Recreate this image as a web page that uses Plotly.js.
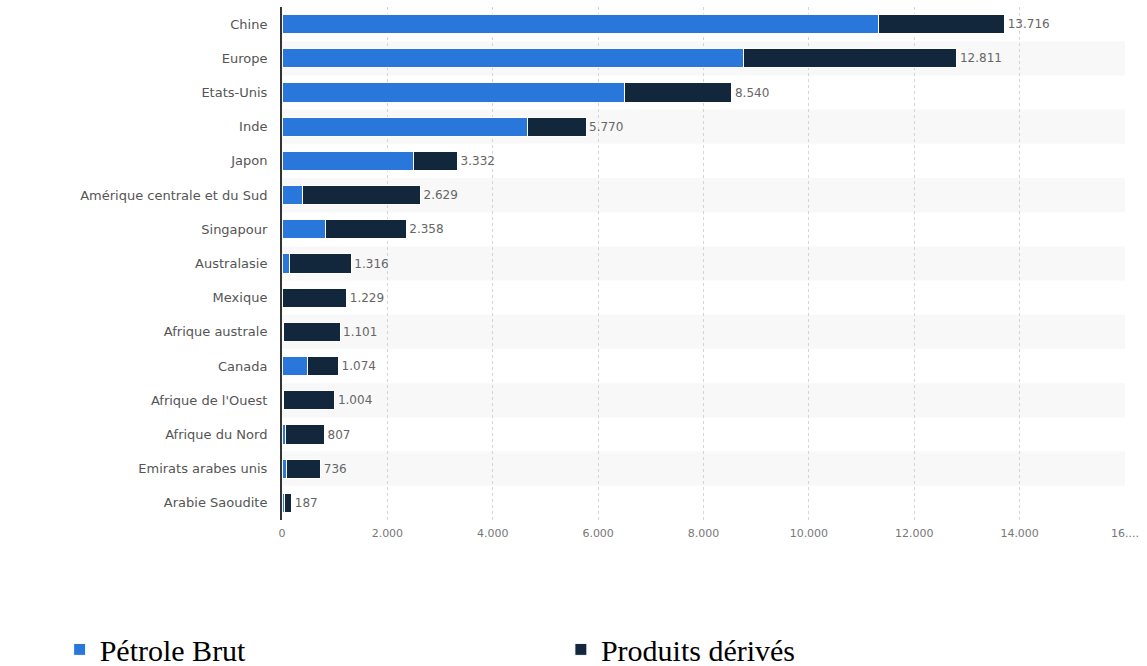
<!DOCTYPE html>
<html>
<head>
<meta charset="utf-8">
<script src="https://cdn.plot.ly/plotly-3.0.1.min.js"></script>
<style>html,body{margin:0;padding:0;background:#fff;}#chart{width:1147px;height:666px;}</style>
</head>
<body>
<div id="chart"></div>
<script>
const categories = ["Chine","Europe","Etats-Unis","Inde","Japon","Amérique centrale et du Sud","Singapour","Australasie","Mexique","Afrique australe","Canada","Afrique de l'Ouest","Afrique du Nord","Emirats arabes unis","Arabie Saoudite"];
const petroleBrut = [11316, 8764, 6503, 4650, 2504, 396, 828, 143, 0, 30, 491, 30, 60, 80, 50];
const totals = [13716, 12811, 8540, 5770, 3332, 2629, 2358, 1316, 1229, 1101, 1074, 1004, 807, 736, 187];
const produitsDerives = totals.map((t, i) => t - petroleBrut[i]);
const tickVals = [0, 2000, 4000, 6000, 8000, 10000, 12000, 14000, 16000];
const tickText = ["0", "2.000", "4.000", "6.000", "8.000", "10.000", "12.000", "14.000", "16...."];
const seriesNames = ["Pétrole Brut", "Produits dérivés"];

function fmt(n) { return String(n).replace(/\B(?=(\d{3})+(?!\d))/g, "."); }

const traces = [
  {
    type: "bar", orientation: "h", name: seriesNames[0],
    y: categories, x: petroleBrut,
    marker: {color: "#2a77dc", line: {color: "#ffffff", width: 1}},
    legend: "legend",
    hoverinfo: "x+y"
  },
  {
    type: "bar", orientation: "h", name: seriesNames[1],
    y: categories, x: produitsDerives,
    marker: {color: "#12263c", line: {color: "#ffffff", width: 1}},
    text: totals.map(fmt), textposition: "outside", cliponaxis: false,
    textfont: {family: "DejaVu Sans", size: 12, color: "#666666"},
    legend: "legend2",
    hoverinfo: "x+y"
  }
];

const shapes = categories.map((c, i) => i % 2 === 1 ? {
  type: "rect", xref: "paper", yref: "y", x0: 0, x1: 1,
  y0: i - 0.5, y1: i + 0.5, fillcolor: "#f8f8f8", line: {width: 0}, layer: "below"
} : null).filter(Boolean);

const legendFont = {family: "Liberation Serif", size: 30, color: "#000000"};

const layout = {
  width: 1147, height: 666,
  margin: {l: 282, r: 22, t: 7, b: 146},
  paper_bgcolor: "#ffffff", plot_bgcolor: "rgba(0,0,0,0)",
  barmode: "stack", bargap: 0.44,
  separators: ",.",
  font: {family: "DejaVu Sans", color: "#666666"},
  xaxis: {
    range: [0, 16000], tickvals: tickVals, ticktext: tickText,
    showgrid: true, gridcolor: "#d4d4d4", griddash: "dot", gridwidth: 1,
    zeroline: false, showline: false, ticks: "", ticklabelstandoff: 5,
    tickfont: {family: "DejaVu Sans", size: 11, color: "#777777"},
    fixedrange: true
  },
  yaxis: {
    type: "category", autorange: "reversed",
    showgrid: false, zeroline: false,
    showline: true, linecolor: "#333333", linewidth: 2,
    ticks: "", ticklabelstandoff: 10,
    tickfont: {family: "DejaVu Sans", size: 13, color: "#555555"},
    fixedrange: true
  },
  shapes: shapes,
  showlegend: true,
  legend: {
    orientation: "h", xref: "container", yref: "container",
    x: 0.052, xanchor: "left", y: 0.064, yanchor: "top",
    font: legendFont, bgcolor: "rgba(0,0,0,0)"
  },
  legend2: {
    orientation: "h", xref: "container", yref: "container",
    x: 0.489, xanchor: "left", y: 0.064, yanchor: "top",
    font: legendFont, bgcolor: "rgba(0,0,0,0)"
  }
};

Plotly.newPlot("chart", traces, layout, {displayModeBar: false, staticPlot: true});
</script>
</body>
</html>
